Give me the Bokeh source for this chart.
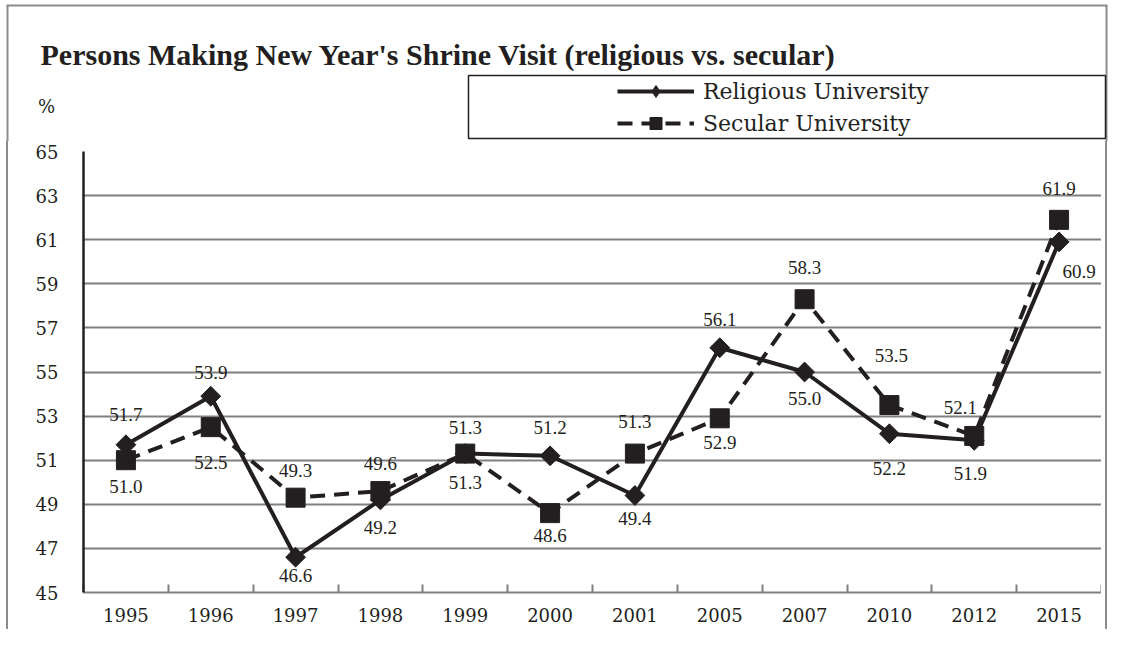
import math
from bokeh.plotting import figure
from bokeh.layouts import column, row
from bokeh.models import (ColumnDataSource, Range1d, FixedTicker, LabelSet, Label,
                          Legend, LegendItem, Spacer)
from bokeh.embed import file_html
from bokeh.resources import INLINE

# ---------------- data ----------------
years = ["1995", "1996", "1997", "1998", "1999", "2000", "2001",
         "2005", "2007", "2010", "2012", "2015"]
religious = [51.7, 53.9, 46.6, 49.2, 51.3, 51.2, 49.4, 56.1, 55.0, 52.2, 51.9, 60.9]
secular = [51.0, 52.5, 49.3, 49.6, 51.3, 48.6, 51.3, 52.9, 58.3, 53.5, 52.1, 61.9]
y_ticks = [45, 47, 49, 51, 53, 55, 57, 59, 61, 63, 65]

title_text = "Persons Making New Year's Shrine Visit (religious vs. secular)"
series_names = ["Religious University", "Secular University"]
unit_text = "%"

# label placement (screen px, right / down positive)
rel_lab_dx = [0, 0, 0, 0, 0, 0, 0, 0, 0, 0, -4, 20]
rel_lab_dy = [-30, -24, 18, 28, 29, -28, 23, -28, 26, 35, 33, 30]
sec_lab_dx = [0, 0, 0, 0, 0, 0, 0, 0, 0, 2, -14, 0]
sec_lab_dy = [26, 35, -27, -28, -26, 22, -32, 24, -32, -50, -28, -31]

INK = "#231f20"
GRID = "#808080"
FRAME_C = "#8c8c8c"
NUM_FONT = "DejaVu Serif"

TOTAL_W, TOTAL_H = 1109, 629
HEAD_H = 141
FW = 1019


def blank(width, height, xr, yr):
    f = figure(width=width, height=height, x_range=Range1d(*xr), y_range=Range1d(*yr),
               min_border=0, x_axis_location=None, y_axis_location=None,
               title_location=None, output_backend="svg", toolbar_location=None,
               background_fill_color="white", border_fill_color="white")
    f.outline_line_color = None
    f.grid.visible = False
    return f


# ---------------- header: title, legend, unit, frame top ----------------
head = blank(TOTAL_W, HEAD_H, (0, TOTAL_W), (HEAD_H, 0))
head.segment(x0=[6, 7, TOTAL_W - 3], y0=[5, 5, 5], x1=[TOTAL_W - 2, 7, TOTAL_W - 3],
             y1=[5, HEAD_H + 5, HEAD_H + 5], line_color=FRAME_C, line_width=2)
head.add_layout(Label(x=40, y=54, text=title_text, text_align="left",
                      text_baseline="alphabetic", text_font="Liberation Serif",
                      text_font_style="bold", text_font_size="30px", text_color=INK))
head.add_layout(Label(x=46, y=106, text=unit_text, text_align="center",
                      text_baseline="middle", text_font=NUM_FONT,
                      text_font_size="18px", text_color=INK))
head.quad(left=[468], right=[1105], top=[75], bottom=[138], fill_alpha=0,
          line_color=INK, line_width=1.5)

# legend proxies (kept off-canvas)
proxy = dict(x=[-60, -40], y=[-60, -60])
lg_rl = head.line("x", "y", source=ColumnDataSource(proxy), line_color=INK, line_width=4)
lg_rp = head.scatter("x", "y", source=ColumnDataSource(proxy), marker="diamond",
                     size=12, fill_color=INK, line_color=INK)
lg_sl = head.line("x", "y", source=ColumnDataSource(proxy), line_color=INK, line_width=4,
                  line_dash="15 9")
lg_sp = head.scatter("x", "y", source=ColumnDataSource(proxy), marker="square", size=12,
                     fill_color=INK, line_color=INK)
legend = Legend(items=[LegendItem(label=series_names[0], renderers=[lg_rl, lg_rp]),
                       LegendItem(label=series_names[1], renderers=[lg_sl, lg_sp])],
                location=(617, HEAD_H - 138),
                padding=0, margin=0, spacing=2,
                glyph_width=77, glyph_height=30, label_height=30, label_standoff=9,
                label_text_font=NUM_FONT, label_text_font_size="22px",
                label_text_color=INK, label_text_baseline="middle",
                border_line_color=None, background_fill_alpha=0)
head.add_layout(legend, "center")

# ---------------- main chart ----------------
body_h = TOTAL_H - HEAD_H
LEFT_PAD, RIGHT_PAD = 8, 8          # spacer widths incl. the frame line
main_w = TOTAL_W - LEFT_PAD - RIGHT_PAD
idx = list(range(len(years)))
p = figure(width=main_w, height=body_h,
           min_border_left=83 - LEFT_PAD, min_border_top=151 - HEAD_H,
           min_border_right=main_w - (83 - LEFT_PAD) - FW,
           min_border_bottom=body_h - (151 - HEAD_H) - 441,
           x_range=Range1d(-0.5, len(years) - 0.5), y_range=Range1d(y_ticks[0], y_ticks[-1]),
           title_location=None, output_backend="svg", toolbar_location=None,
           background_fill_color="white", border_fill_color="white")
p.outline_line_color = None

p.xaxis.ticker = FixedTicker(ticks=idx, minor_ticks=[i - 0.5 for i in range(len(years) + 1)])
p.xaxis.major_label_overrides = {i: y for i, y in enumerate(years)}
p.xaxis.major_tick_line_color = None
p.xaxis.major_tick_in = 0
p.xaxis.major_tick_out = 0
p.xaxis.minor_tick_in = 8
p.xaxis.minor_tick_out = 0
p.xaxis.minor_tick_line_color = GRID
p.xaxis.minor_tick_line_width = 2
p.xaxis.axis_line_color = GRID
p.xaxis.axis_line_width = 2
p.xaxis.major_label_standoff = 15
p.xaxis.major_label_text_font = NUM_FONT
p.xaxis.major_label_text_font_size = "18px"
p.xaxis.major_label_text_color = INK

p.yaxis.ticker = FixedTicker(ticks=y_ticks)
p.yaxis.major_tick_in = 0
p.yaxis.major_tick_out = 0
p.yaxis.major_tick_line_color = None
p.yaxis.minor_tick_line_color = None
p.yaxis.axis_line_color = INK
p.yaxis.axis_line_width = 2.5
p.yaxis.major_label_standoff = 25
p.yaxis.major_label_text_font = NUM_FONT
p.yaxis.major_label_text_font_size = "18px"
p.yaxis.major_label_text_color = INK

p.xgrid.grid_line_color = None
p.ygrid.ticker = FixedTicker(ticks=y_ticks)
p.ygrid.grid_line_color = GRID
p.ygrid.grid_line_width = 2

rel_src = ColumnDataSource(dict(x=idx, y=religious, t=["%.1f" % v for v in religious],
                                dx=rel_lab_dx, dy=[-d for d in rel_lab_dy]))
sec_src = ColumnDataSource(dict(x=idx, y=secular, t=["%.1f" % v for v in secular],
                                dx=sec_lab_dx, dy=[-d for d in sec_lab_dy]))

p.line("x", "y", source=rel_src, line_color=INK, line_width=4)
p.scatter("x", "y", source=rel_src, marker="square", angle=math.pi / 4,
          size=14, fill_color=INK, line_color=INK)
p.line("x", "y", source=sec_src, line_color=INK, line_width=4, line_dash="15 9")
p.scatter("x", "y", source=sec_src, marker="square", size=19,
          fill_color=INK, line_color=INK)

for src in (rel_src, sec_src):
    p.add_layout(LabelSet(x="x", y="y", text="t", source=src, x_offset="dx", y_offset="dy",
                          text_align="center", text_baseline="middle",
                          text_font=NUM_FONT, text_font_size="19px", text_color=INK))

# side spacers draw the outer frame's vertical edges
left_side = row(Spacer(width=6, height=body_h),
                Spacer(width=2, height=body_h, styles={"background-color": FRAME_C}))
right_side = row(Spacer(width=4, height=body_h),
                 Spacer(width=2, height=body_h, styles={"background-color": FRAME_C}),
                 Spacer(width=2, height=body_h))

layout = column(head, row(left_side, p, right_side))
open("out.html", "w").write(file_html(layout, INLINE))
